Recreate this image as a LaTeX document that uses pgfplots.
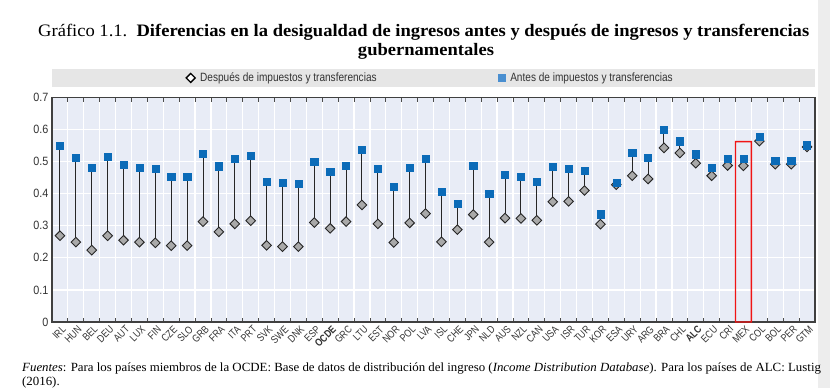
\documentclass[border=0pt]{standalone}
\usepackage{pgfplots}
\usepackage{pgfplotstable}
\pgfplotsset{compat=1.18}
\usetikzlibrary{calc}
\usepackage{fontspec}
\setmainfont{Liberation Serif}
\newfontfamily\titlefont[FakeStretch=1.06]{Liberation Serif}
\newfontfamily\footfont[FakeStretch=1.03]{Liberation Serif}
\newfontfamily\narrow[FakeStretch=0.82]{Liberation Sans}
\newfontfamily\yfont[FakeStretch=0.9]{Liberation Sans}
\newfontfamily\legfont[FakeStretch=0.84]{Liberation Sans}
\definecolor{bg}{HTML}{E8ECF6}
\definecolor{oblue}{HTML}{0B6BB8}
\definecolor{lblue}{HTML}{4A8FD0}
\definecolor{dgray}{HTML}{A9A9A9}
\definecolor{lgbar}{HTML}{E6E6E6}
\definecolor{boxred}{RGB}{240,20,20}

\pgfplotstableread{
x after before
0 0.269 0.550
1 0.249 0.513
2 0.224 0.480
3 0.269 0.516
4 0.255 0.490
5 0.249 0.480
6 0.247 0.477
7 0.238 0.452
8 0.238 0.452
9 0.313 0.526
10 0.281 0.486
11 0.306 0.508
12 0.316 0.518
13 0.239 0.438
14 0.235 0.435
15 0.235 0.430
16 0.310 0.499
17 0.292 0.469
18 0.313 0.488
19 0.365 0.538
20 0.306 0.479
21 0.248 0.422
22 0.309 0.482
23 0.338 0.508
24 0.250 0.406
25 0.288 0.368
26 0.335 0.488
27 0.249 0.399
28 0.324 0.459
29 0.323 0.452
30 0.317 0.438
31 0.375 0.483
32 0.376 0.479
33 0.410 0.473
34 0.305 0.336
35 0.428 0.434
36 0.456 0.528
37 0.446 0.513
38 0.543 0.599
39 0.527 0.564
40 0.495 0.523
41 0.456 0.481
42 0.488 0.510
43 0.487 0.508
44 0.564 0.578
45 0.492 0.502
46 0.492 0.502
47 0.546 0.551
}\data

\begin{document}
\begin{tikzpicture}[x=1pt,y=1pt]
\useasboundingbox (0,0) rectangle (830,388);
\fill[white] (0,0) rectangle (830,388);
\fill[black!7] (818,0) rectangle (830,388);
\fill[lgbar] (52,301.3) rectangle (815,318.7);
\node[anchor=base west, inner sep=0pt, font=\titlefont\fontsize{17.5}{20}\selectfont] at (38,351) {Gráfico 1.1.\ \ \textbf{Diferencias en la desigualdad de ingresos antes y después de ingresos y transferencias}};
\node[anchor=base, inner sep=0pt, font=\titlefont\fontsize{17.5}{20}\selectfont] at (426,332) {\textbf{gubernamentales}};
\begin{axis}[
  at={(52pt,66pt)}, anchor=south west, scale only axis,
  width=763pt, height=224.5pt,
  xmin=-0.5, xmax=47.5, ymin=0, ymax=0.7,
  axis background/.style={fill=bg},
  axis line style={draw=black!75, line width=1.2pt},
  xtick={0,...,47},
  xticklabels={IRL,HUN,BEL,DEU,AUT,LUX,FIN,CZE,SLO,GRB,FRA,ITA,PRT,SVK,SWE,DNK,ESP,\textbf{OCDE},GRC,LTU,EST,NOR,POL,LVA,ISL,CHE,JPN,NLD,AUS,NZL,CAN,USA,ISR,TUR,KOR,ESA,URY,ARG,BRA,CHL,\textbf{ALC},ECU,CRI,MEX,COL,BOL,PER,GTM},
  minor xtick={0.5,1.5,...,46.5},
  ytick={0,0.1,...,0.7},
  major tick length=0pt, minor tick length=4pt, tick align=inside,
  every minor tick/.style={draw=black!70, line width=0.8pt},
  xminorgrids=true, ymajorgrids=true, xmajorgrids=false,
  minor grid style={white, line width=1.2pt},
  major grid style={white, line width=1.2pt},
  xticklabel style={rotate=45, anchor=north east, font=\narrow\fontsize{10.5}{11}\selectfont, text=black!80, inner sep=1pt, yshift=-2pt},
  yticklabel style={font=\yfont\fontsize{12}{13}\selectfont, text=black!80, /pgf/number format/fixed, /pgf/number format/precision=1},
  /pgf/number format/assume math mode=true,
  legend style={at={(0.496,1.087)}, anchor=center, draw=none, fill=none, legend columns=2, font=\legfont\fontsize{12}{13}\selectfont, text=black!80, /tikz/every odd column/.append style={column sep=3pt}, /tikz/every even column/.append style={column sep=120pt}},
]
\addlegendimage{only marks, mark=square*, mark size=3.2pt, mark options={rotate=45, fill=white, draw=black, line width=1.3pt}}
\addlegendentry{Después de impuestos y transferencias}
\addlegendimage{only marks, mark=square*, mark size=3.3pt, mark options={fill=lblue, draw=lblue}}
\addlegendentry{Antes de impuestos y transferencias}
\addplot[draw=none, mark=none, forget plot, error bars/.cd, y dir=plus, y explicit, error mark=none, error bar style={draw=black!85, line width=1pt}]
  table[x=x, y=after, y error expr=\thisrow{before}-\thisrow{after}] {\data};
\addplot[only marks, forget plot, mark=square*, mark size=3.4pt, mark options={rotate=45, fill=dgray, draw=black!85, line width=0.9pt}]
  table[x=x, y=after] {\data};
\addplot[only marks, forget plot, mark=square*, mark size=3.6pt, mark options={fill=oblue, draw=oblue}]
  table[x=x, y=before] {\data};
\coordinate (rb) at (axis cs:42.5,0);
\coordinate (rt) at (axis cs:43.5,0.5625);
\end{axis}
\fill[boxred, even odd rule] ($(rb)+(-0.7,-0.7)$) rectangle ($(rt)+(0.7,0.7)$) ($(rb)+(0.7,0.7)$) rectangle ($(rt)+(-0.7,-0.7)$);
\node[anchor=base west, inner sep=0pt, font=\footfont\fontsize{12.5}{14}\selectfont] at (22,16) {\textit{Fuentes}: Para los países miembros de la OCDE: Base de datos de distribución del ingreso (\textit{Income Distribution Database}). Para los países de ALC: Lustig};
\node[anchor=base west, inner sep=0pt, font=\footfont\fontsize{12.5}{14}\selectfont] at (22,2) {(2016).};
\end{tikzpicture}
\end{document}
